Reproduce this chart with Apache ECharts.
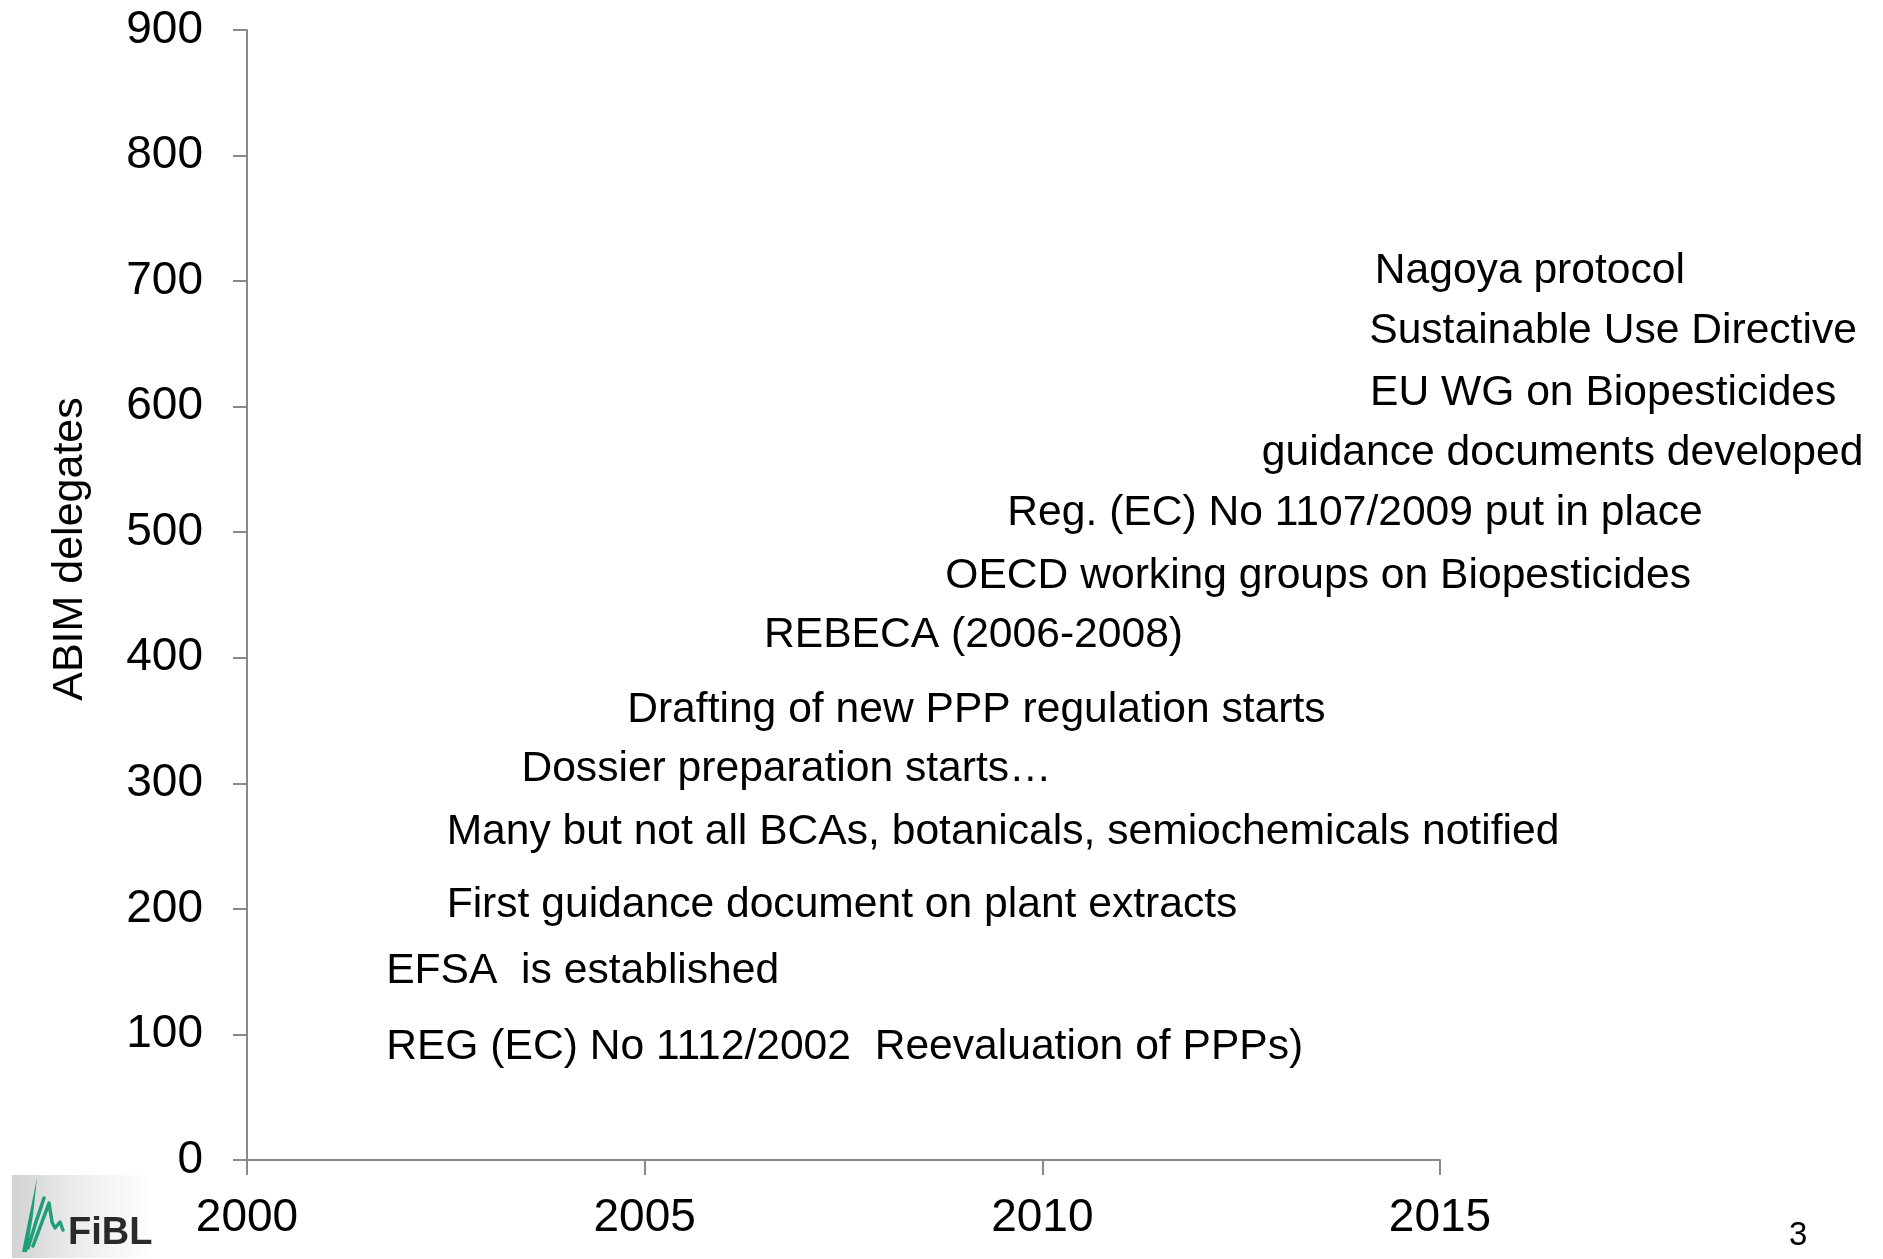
<!DOCTYPE html>
<html>
<head>
<meta charset="utf-8">
<style>
  html, body { margin: 0; padding: 0; background: #ffffff; }
  #chart { width: 1883px; height: 1259px; }
</style>
<script src="https://cdn.jsdelivr.net/npm/echarts@6/dist/echarts.min.js"></script>
</head>
<body>
<div id="chart"></div>
<script>
// ---- data ----
var xTicks = [2000, 2005, 2010, 2015];
var yTicks = [0, 100, 200, 300, 400, 500, 600, 700, 800, 900];
var yAxisTitle = 'ABIM delegates';
var pageNumber = '3';

var eventLabels = [
  'Nagoya protocol',
  'Sustainable Use Directive',
  'EU WG on Biopesticides',
  'guidance documents developed',
  'Reg. (EC) No 1107/2009 put in place',
  'OECD working groups on Biopesticides',
  'REBECA (2006-2008)',
  'Drafting of new PPP regulation starts',
  'Dossier preparation starts\u2026',
  'Many but not all BCAs, botanicals, semiochemicals notified',
  'First guidance document on plant extracts',
  'EFSA  is established',
  'REG (EC) No 1112/2002  Reevaluation of PPPs)'
];
// left edge of each text (year) and its vertical level (axis units)
var eventYears  = [2014.18, 2014.11, 2014.12, 2012.76, 2009.56, 2008.78, 2006.50, 2004.78, 2003.45, 2002.51, 2002.51, 2001.75, 2001.75];
var eventLevels = [708, 660, 611, 563, 515, 465, 418, 358, 311, 261, 203, 150, 90];

// ---- chart ----
var FONT = "'Liberation Sans', Arial, sans-serif";
var chart = echarts.init(document.getElementById('chart'), null, { renderer: 'canvas' });

var points = eventYears.map(function (x, i) {
  return { name: eventLabels[i], value: [x, eventLevels[i]] };
});

var axisColor = '#898989';

chart.setOption({
  backgroundColor: '#ffffff',
  animation: false,
  textStyle: { fontFamily: FONT, color: '#000000' },
  grid: { left: 247, top: 30, right: 443, bottom: 99, containLabel: false },
  xAxis: {
    type: 'value',
    min: xTicks[0],
    max: xTicks[xTicks.length - 1],
    interval: xTicks[1] - xTicks[0],
    axisLine: { show: true, onZero: false, lineStyle: { color: axisColor, width: 2 } },
    axisTick: { show: true, inside: false, length: 15, lineStyle: { color: axisColor, width: 2 } },
    splitLine: { show: false },
    axisLabel: {
      margin: 35,
      color: '#000000',
      fontFamily: FONT,
      fontSize: 46,
      formatter: function (v) { return String(v); }
    }
  },
  yAxis: {
    type: 'value',
    min: yTicks[0],
    max: yTicks[yTicks.length - 1],
    interval: yTicks[1] - yTicks[0],
    name: yAxisTitle,
    nameLocation: 'middle',
    nameGap: 155,
    nameRotate: 90,
    nameTextStyle: {
      color: '#000000',
      fontFamily: FONT,
      fontSize: 43,
      padding: [0, 0, 0, 92]
    },
    axisLine: { show: true, lineStyle: { color: axisColor, width: 2 } },
    axisTick: { show: true, inside: false, length: 14, lineStyle: { color: axisColor, width: 2 } },
    splitLine: { show: false },
    axisLabel: {
      margin: 44,
      color: '#000000',
      fontFamily: FONT,
      fontSize: 46
    }
  },
  series: [{
    type: 'scatter',
    clip: false,
    symbolSize: 0,
    itemStyle: { color: '#000000', opacity: 1 },
    data: points,
    label: {
      show: true,
      position: 'right',
      distance: 0,
      align: 'left',
      verticalAlign: 'middle',
      color: '#000000',
      opacity: 1,
      textBorderWidth: 0,
      fontFamily: FONT,
      fontSize: 42.6,
      formatter: function (p) { return p.name; }
    },
    emphasis: { disabled: true }
  }],
  graphic: [
    // page number
    {
      type: 'text', left: 1789, top: 1219,
      style: { text: pageNumber, fill: '#000000', font: "33px 'Liberation Sans', Arial, sans-serif" }
    },
    // FiBL logo (decorative)
    {
      type: 'rect', shape: { x: 12, y: 1175, width: 140, height: 83 },
      style: {
        fill: new echarts.graphic.LinearGradient(0, 0, 1, 0, [
          { offset: 0, color: '#d2d2d2' }, { offset: 0.45, color: '#ececec' }, { offset: 1, color: '#ffffff' }
        ])
      }
    },
    {
      type: 'polygon', shape: { points: [[22, 1252], [27, 1252], [33, 1215], [37, 1178], [30, 1212]] },
      style: { fill: '#1f9e7a' }
    },
    {
      type: 'polyline', shape: { points: [[28, 1248], [36, 1222], [44, 1198]] },
      style: { stroke: '#1f9e7a', lineWidth: 3.5, fill: null, lineCap: 'round' }
    },
    {
      type: 'polyline', shape: { points: [[33, 1246], [42, 1222], [49, 1203], [52, 1222], [55, 1228], [60, 1222], [63, 1230]] },
      style: { stroke: '#1f9e7a', lineWidth: 3.5, fill: null, lineCap: 'round', lineJoin: 'round' }
    },
    {
      type: 'text', left: 68, top: 1215,
      style: { text: 'FiBL', fill: '#2a2a2a', font: "bold 38px 'Liberation Sans', Arial, sans-serif" }
    }
  ]
});
</script>
</body>
</html>
